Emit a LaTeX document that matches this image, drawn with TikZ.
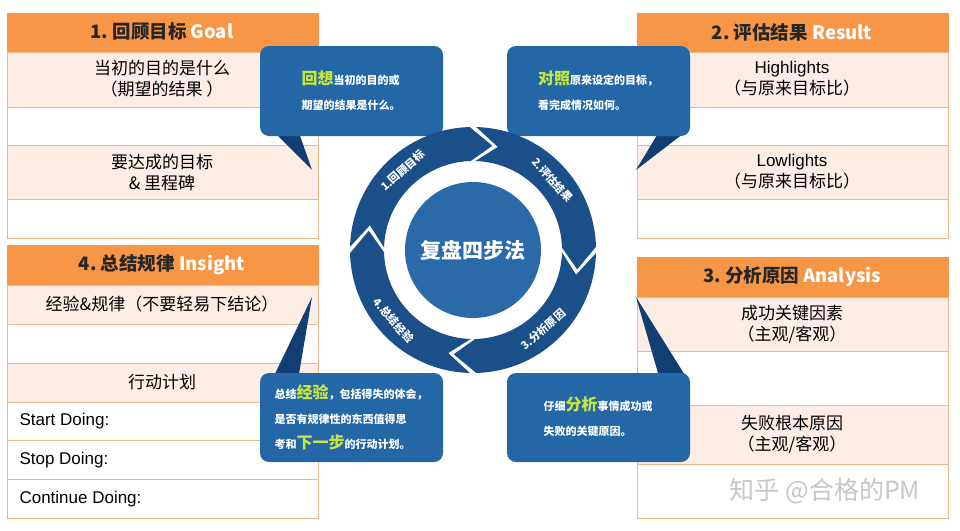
\documentclass[tikz,border=0pt]{standalone}
\usepackage{fontspec}
\setmainfont{Liberation Sans}
\newfontfamily\cjk{Noto Sans CJK SC}
\definecolor{hdr}{HTML}{F79646}
\definecolor{pinkrow}{HTML}{FDEDE5}
\definecolor{lineor}{HTML}{EDB88E}
\definecolor{ringblue}{HTML}{1B4F8A}
\definecolor{diskblue}{HTML}{2A6AA8}
\definecolor{callblue}{HTML}{2467A6}
\definecolor{taildark}{HTML}{123F73}
\definecolor{hilite}{HTML}{C6E83A}
\tikzset{
  cell/.style={draw=lineor, line width=0.8pt},
  hdrcell/.style={fill=hdr, draw=hdr},
  celltxt/.style={font=\cjk\fontsize{17}{21}\selectfont, align=center, text=black},
  lefttxt/.style={font=\fontsize{17}{21}\selectfont, anchor=west, text=black},
  hdrtxt/.style={font=\cjk\bfseries\fontsize{18.5}{22}\selectfont, text=black!85},
  callout/.style={fill=callblue, rounded corners=9pt},
  tail/.style={fill=taildark},
  calltxt/.style={font=\cjk\bfseries\fontsize{11}{25}\selectfont, text=white, align=left},
  ringtxt/.style={font=\cjk\bfseries\fontsize{11}{13}\selectfont, text=white, inner sep=0pt}
}
\newcommand{\hl}[1]{{\color{hilite}\fontsize{16}{25}\selectfont #1}}
\begin{document}
\begin{tikzpicture}[x=1pt,y=-1pt]
\useasboundingbox (0,0) rectangle (960,530);
\fill[white] (0,0) rectangle (960,530);
% ---------- Table 1 ----------
\fill[hdrcell] (7,13) rectangle (318,52);
\node[hdrtxt] (h1) at (162,32) {1.\ 回顾目标 \textcolor{white}{Goal}};
\filldraw[cell,fill=pinkrow] (7,52) rectangle (318,107);
\draw[cell] (7,107) rectangle (318,145);
\filldraw[cell,fill=pinkrow] (7,145) rectangle (318,199);
\draw[cell] (7,199) rectangle (318,238);
\node[celltxt] (t1a) at (162,79) {当初的目的是什么\\（期望的结果 ）};
\node[celltxt] (t1b) at (162,172) {要达成的目标\\\& 里程碑};
% ---------- Table 2 ----------
\fill[hdrcell] (637,13) rectangle (948,52);
\node[hdrtxt] (h2) at (792,32) {2.\ 评估结果 \textcolor{white}{Result}};
\filldraw[cell,fill=pinkrow] (637,52) rectangle (948,107);
\draw[cell] (637,107) rectangle (948,145);
\filldraw[cell,fill=pinkrow] (637,145) rectangle (948,199);
\draw[cell] (637,199) rectangle (948,238);
\node[celltxt] (t2a) at (792,79) {{\fontspec{Liberation Sans}Highlights}\\（与原来目标比）};
\node[celltxt] (t2b) at (792,172) {{\fontspec{Liberation Sans}Lowlights}\\（与原来目标比）};
% ---------- Table 3 ----------
\fill[hdrcell] (637,257) rectangle (948,297);
\node[hdrtxt] (h3) at (792,277) {3.\ 分析原因 \textcolor{white}{Analysis}};
\filldraw[cell,fill=pinkrow] (637,297) rectangle (948,351);
\draw[cell] (637,351) rectangle (948,405);
\filldraw[cell,fill=pinkrow] (637,405) rectangle (948,464);
\draw[cell] (637,464) rectangle (948,518);
\node[celltxt] (t3a) at (792,324) {成功关键因素\\（主观/客观）};
\node[celltxt] (t3b) at (792,434) {失败根本原因\\（主观/客观）};
\node[font=\cjk\fontsize{25}{28}\selectfont, text=black!22] (wm) at (825,491) {知乎 @合格的PM};
% ---------- Table 4 ----------
\fill[hdrcell] (7,245) rectangle (318,285);
\node[hdrtxt] (h4) at (162,265) {4.\ 总结规律 \textcolor{white}{Insight}};
\filldraw[cell,fill=pinkrow] (7,285) rectangle (318,324);
\draw[cell] (7,324) rectangle (318,363);
\filldraw[cell,fill=pinkrow] (7,363) rectangle (318,402);
\draw[cell] (7,402) rectangle (318,440);
\draw[cell] (7,440) rectangle (318,479);
\draw[cell] (7,479) rectangle (318,518);
\node[celltxt] (t4a) at (162,304) {经验\&规律（不要轻易下结论）};
\node[celltxt] (t4b) at (162,382) {行动计划};
\node[lefttxt] (t4c) at (16,421) {Start Doing:};
\node[lefttxt] (t4d) at (16,460) {Stop Doing:};
\node[lefttxt] (t4e) at (16,499) {Continue Doing:};
% ---------- Callouts ----------
\fill[tail] (272,130) -- (312,170) -- (298,130) -- cycle;
\fill[callout] (260,46) rectangle (443,136);
\node[calltxt] (c1) at (351,91) {\hl{回想}当初的目的或\\期望的结果是什么。};
\fill[tail] (688,130) -- (636,170) -- (660,130) -- cycle;
\fill[callout] (507,46) rectangle (690,136);
\node[calltxt] (c2) at (598,91) {\hl{对照}原来设定的目标，\\看完成情况如何。};
\fill[tail] (272,380) -- (312,297) -- (298,380) -- cycle;
\fill[callout] (260,373) rectangle (443,462);
\node[calltxt] (c4) at (351,417) {总结\hl{经验}，包括得失的体会，\\是否有规律性的东西值得思\\考和\hl{下一步}的行动计划。};
\fill[tail] (688,380) -- (636,297) -- (660,380) -- cycle;
\fill[callout] (507,373) rectangle (690,462);
\node[calltxt] (c3) at (598,417) {仔细\hl{分析}事情成功或\\失败的关键原因。};
% ---------- Ring ----------
\begin{scope}[shift={(473,250)}, yscale=-1]
  \foreach \k/\lab in {1/{1.回顾目标},2/{2.评估结果},3/{3.分析原因},4/{4.总结经验}} {
    \pgfmathsetmacro{\s}{180-90*(\k-1)-1.5}
    \pgfmathsetmacro{\e}{\s-87}
    \pgfmathsetmacro{\sd}{\s-12}
    \pgfmathsetmacro{\ed}{\e-12}
    \fill[ringblue] (\s:123) arc[start angle=\s, end angle=\e, radius=123]
      -- (\ed:106) -- (\e:89) arc[start angle=\e, end angle=\s, radius=89]
      -- (\sd:106) -- cycle;
    \pgfmathsetmacro{\m}{\s-47}
    \pgfmathsetmacro{\rot}{ifthenelse(\k<3, \m-90, \m+90)}
    \node[ringtxt, rotate=\rot] (r\k) at (\m:106) {\lab};
  }
  \fill[diskblue] (0,0) circle[radius=68];
\end{scope}
\node[font=\cjk\bfseries\fontsize{21}{24}\selectfont, text=white] (center) at (473,250) {复盘四步法};
\end{tikzpicture}
\end{document}
